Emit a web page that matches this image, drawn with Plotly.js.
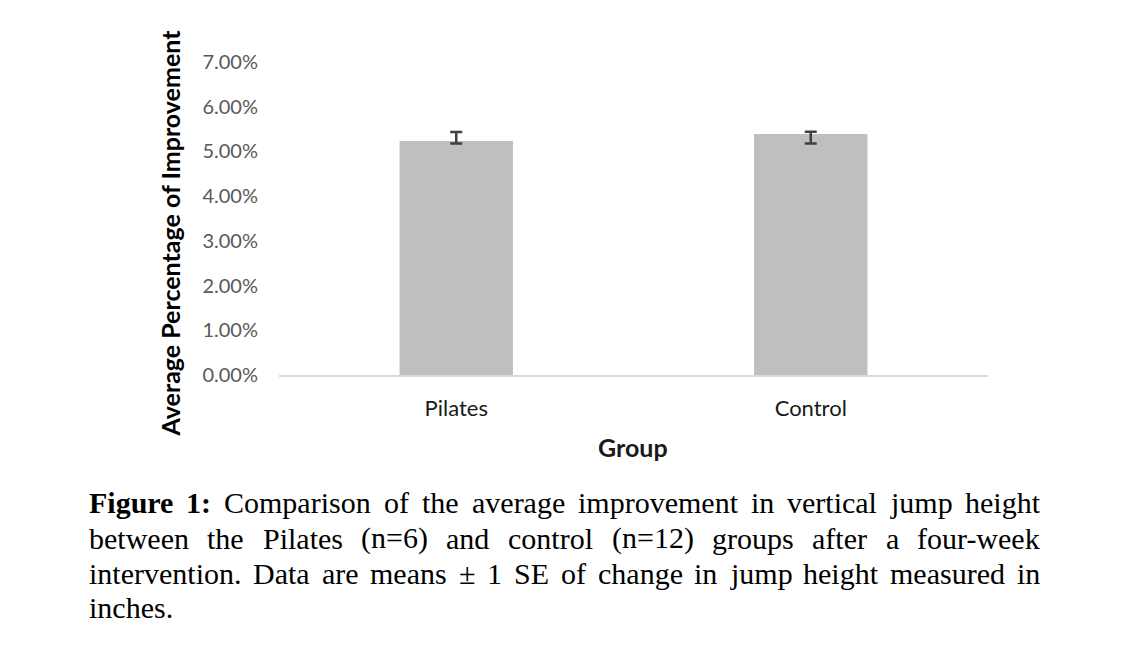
<!DOCTYPE html>
<html>
<head>
<meta charset="utf-8">
<script src="https://cdn.plot.ly/plotly-3.0.1.min.js"></script>
<style>html,body{margin:0;padding:0;background:#fff;}#chart{width:1124px;height:659px;}</style>
</head>
<body>
<div id="chart"></div>
<script>
// ---- data ----
const groups = ["Pilates", "Control"];
const meanImprovement = [0.05235, 0.0539];
const errorPlus = [0.0020, 0.0005];
const errorMinus = [0.00055, 0.0021];
const yTickValues = [0, 0.01, 0.02, 0.03, 0.04, 0.05, 0.06, 0.07];
const yTitle = "Average Percentage of Improvement";
const xTitle = "Group";
const captionLines = [
  "Figure 1: Comparison of the average improvement in vertical jump height",
  "between the Pilates (n=6) and control (n=12) groups after a four-week",
  "intervention. Data are means \u00b1 1 SE of change in jump height measured in",
  "inches."
];

// ---- geometry ----
const W = 1124, H = 659;
const M = {l: 279, r: 136, t: 62, b: 284};
const plotW = W - M.l - M.r, plotH = H - M.t - M.b;
const px2paperX = x => (x - M.l) / plotW;
const px2paperY = y => (H - M.b - y) / plotH;

const labelFont = "Lato";
const serif = "Liberation Serif";
const capSize = 30;

const trace = {
  type: "bar",
  x: groups,
  y: meanImprovement,
  marker: {color: "#bfbfbf"},
  error_y: {
    type: "data", symmetric: false,
    array: errorPlus, arrayminus: errorMinus,
    color: "#404040", thickness: 2.5, width: 6
  },
  hoverinfo: "skip"
};

// caption justified word by word
const cv = document.createElement("canvas").getContext("2d");
function measure(t, bold) {
  cv.font = (bold ? "bold " : "") + capSize + "px '" + serif + "'";
  return cv.measureText(t).width;
}
const annotations = [];
const capLeft = 88, capRight = 1039;
const baselines = [512, 548, 583, 617];
captionLines.forEach((line, i) => {
  let words = line.split(" ");
  let items = [];
  if (i === 0) {
    items.push({t: "Figure", b: true});
    items.push({t: "1:", b: true});
    words = words.slice(2);
  }
  words.forEach(w => items.push({t: w, b: false}));
  const widths = items.map(it => measure(it.t, it.b));
  const total = widths.reduce((a, b) => a + b, 0);
  const justify = i < captionLines.length - 1;
  const gap = justify ? (capRight - capLeft - total) / (items.length - 1) : measure(" ", false);
  let x = capLeft;
  items.forEach((it, k) => {
    annotations.push({
      xref: "paper", yref: "paper",
      x: px2paperX(x), y: px2paperY(baselines[i] - 10),
      xanchor: "left", yanchor: "middle",
      text: it.b ? "<b>" + it.t + "</b>" : it.t,
      showarrow: false, borderpad: 0,
      font: {family: serif, size: capSize, color: "#000000"}
    });
    x += widths[k] + gap;
  });
});

annotations.push({
  xref: "paper", yref: "paper",
  x: px2paperX(169), y: px2paperY(233.5),
  xanchor: "center", yanchor: "middle",
  text: "<b>" + yTitle + "</b>", textangle: -90,
  showarrow: false, borderpad: 0,
  font: {family: labelFont, size: 25, color: "#000000"}
});
annotations.push({
  xref: "paper", yref: "paper",
  x: px2paperX(633), y: px2paperY(447),
  xanchor: "center", yanchor: "middle",
  text: "<b>" + xTitle + "</b>",
  showarrow: false, borderpad: 0,
  font: {family: labelFont, size: 25, color: "#1a1a1a"}
});

const layout = {
  width: W, height: H,
  margin: M,
  paper_bgcolor: "#ffffff", plot_bgcolor: "#ffffff",
  showlegend: false,
  bargap: 0.68,
  font: {family: labelFont},
  xaxis: {
    type: "category",
    showline: true, linecolor: "#d9d9d9", linewidth: 2,
    showgrid: false, zeroline: false, ticks: "",
    ticklabelstandoff: 13,
    tickfont: {family: labelFont, size: 22, color: "#1a1a1a"}
  },
  yaxis: {
    range: [0, 0.07],
    tickvals: yTickValues,
    tickformat: ".2%",
    showline: false, showgrid: false, zeroline: false, ticks: "",
    ticklabelstandoff: 20,
    tickfont: {family: labelFont, size: 20, color: "#595959"}
  },
  annotations: annotations
};

Plotly.newPlot("chart", [trace], layout, {staticPlot: true, displayModeBar: false});
</script>
</body>
</html>
